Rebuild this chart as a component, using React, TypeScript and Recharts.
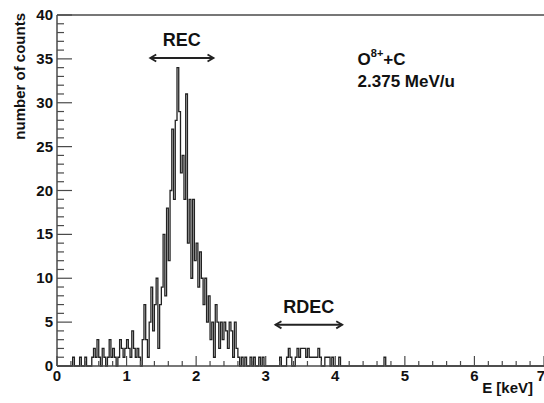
import React from 'react';
import { LineChart, Line, XAxis, YAxis, ReferenceLine, ReferenceDot } from 'recharts';

// histogram of counts, bins of 0.025 keV starting at 0 keV
const binWidth = 0.025;
const counts = [
  // 0.0 - 0.475
  0, 0, 0, 0, 0, 0, 0, 0, 0, 1, 0, 0, 0, 1, 0, 0, 1, 0, 0, 0,
  // 0.5 - 0.975
  1, 2, 1, 3, 1, 0, 2, 1, 0, 1, 3, 1, 2, 1, 0, 1, 3, 2, 1, 2,
  // 1.0 - 1.475
  3, 2, 1, 4, 2, 1, 2, 1, 0, 3, 7, 3, 1, 5, 9, 4, 7, 10, 2, 7,
  // 1.5 - 1.975
  9, 15, 8, 18, 12, 20, 27, 19, 28, 34, 29, 22, 24, 19, 31, 14, 19, 10, 19, 12,
  // 2.0 - 2.475
  14, 9, 13, 10, 7, 10, 5, 8, 3, 5, 1, 7, 5, 2, 5, 3, 5, 4, 2, 5,
  // 2.5 - 2.975
  4, 1, 5, 2, 1, 0, 1, 0, 1, 0, 0, 1, 0, 1, 0, 0, 1, 0, 1, 0,
  // 3.0 - 3.475
  0, 0, 0, 0, 0, 0, 0, 0, 1, 0, 0, 0, 1, 2, 1, 0, 0, 1, 2, 1,
  // 3.5 - 3.975
  2, 2, 2, 1, 2, 1, 1, 1, 1, 1, 2, 1, 0, 0, 1, 1, 1, 0, 1, 0,
  // 4.0 - 4.475
  0, 0, 1, 0, 0, 0, 0, 0, 0, 0, 0, 0, 0, 0, 0, 0, 0, 0, 0, 0,
  // 4.5 - 4.975
  0, 0, 0, 0, 0, 0, 0, 0, 1, 0, 0, 0, 0, 0, 0, 0, 0, 0, 0, 0,
];

const xMajorTicks = [0, 1, 2, 3, 4, 5, 6, 7];
const yMajorTicks = [0, 5, 10, 15, 20, 25, 30, 35, 40];

const xTicks = Array.from({ length: 36 }, (_, i) => Math.round(i * 2) / 10);
const yTicks = Array.from({ length: 41 }, (_, i) => i);

const histData = [
  ...counts.map((c, i) => ({ e: i * binWidth, c })),
  { e: counts.length * binWidth, c: 0 },
  { e: 7, c: 0 },
];

const FONT = "'Liberation Sans', Arial, Helvetica, sans-serif";
const AXIS = '#4a4a4a';

const XTick = (props: any) => {
  const { x, y, payload } = props;
  const major = xMajorTicks.includes(payload.value);
  const last = payload.value === xMajorTicks[xMajorTicks.length - 1];
  return (
    <g>
      <line x1={x} y1={y} x2={x} y2={y - (major ? 10 : 5)} stroke={AXIS} strokeWidth={1.2} />
      {major && (
        <text
          x={last ? x + 1 : x}
          y={y + 15}
          textAnchor={last ? 'end' : 'middle'}
          fontFamily={FONT}
          fontWeight="bold"
          fontSize={15}
          fill="#111"
        >
          {payload.value}
        </text>
      )}
    </g>
  );
};

const YTick = (props: any) => {
  const { x, y, payload } = props;
  const major = yMajorTicks.includes(payload.value);
  return (
    <g>
      <line x1={x} y1={y} x2={x + (major ? 15 : 7)} y2={y} stroke={AXIS} strokeWidth={1.2} />
      {major && (
        <text x={x - 4} y={y + 5} textAnchor="end" fontFamily={FONT} fontWeight="bold" fontSize={15} fill="#111">
          {payload.value}
        </text>
      )}
    </g>
  );
};

const DoubleArrow = (props: any) => {
  const { x1, y1, x2, y2 } = props;
  const h = 6;
  return (
    <g stroke="#222" strokeWidth={1.8} fill="none">
      <line x1={x1} y1={y1} x2={x2} y2={y2} />
      <polyline points={`${x1 + h},${y1 - h * 0.6} ${x1},${y1} ${x1 + h},${y1 + h * 0.6}`} />
      <polyline points={`${x2 - h},${y2 - h * 0.6} ${x2},${y2} ${x2 - h},${y2 + h * 0.6}`} />
    </g>
  );
};

const arrowLabel = (text: string) => (p: any) => {
  const vb = p.viewBox;
  return (
    <text x={vb.x + vb.width / 2} y={vb.y - 12} textAnchor="middle" fontFamily={FONT} fontWeight="bold" fontSize={18} fill="#111">
      {text}
    </text>
  );
};

export default function App() {
  return (
    <div style={{ position: 'absolute', left: 0, top: 0, width: 544, height: 403, background: '#fff' }}>
      <LineChart width={544} height={403} data={histData} margin={{ top: 15, right: 0, bottom: 0, left: 0 }}>
        <XAxis
          dataKey="e"
          type="number"
          domain={[0, 7]}
          ticks={xTicks}
          interval={0}
          height={37}
          tickSize={0}
          tickMargin={0}
          tickLine={false}
          tick={<XTick />}
          axisLine={{ stroke: AXIS, strokeWidth: 1.5 }}
          allowDataOverflow
          label={{
            content: () => (
              <text x={533} y={393} textAnchor="end" fontFamily={FONT} fontWeight="bold" fontSize={15} fill="#111">
                E [keV]
              </text>
            ),
          }}
        />
        <YAxis
          type="number"
          domain={[0, 40]}
          ticks={yTicks}
          interval={0}
          width={57}
          tickSize={0}
          tickMargin={0}
          tickLine={false}
          tick={<YTick />}
          axisLine={{ stroke: AXIS, strokeWidth: 1.5 }}
          label={{
            content: () => (
              <text transform="translate(25,13) rotate(-90)" textAnchor="end" fontFamily={FONT} fontWeight="bold" fontSize={15} fill="#111">
                number of counts
              </text>
            ),
          }}
        />
        <ReferenceLine y={40} stroke={AXIS} strokeWidth={1.5} />
        <Line
          type="stepAfter"
          dataKey="c"
          stroke="#222"
          strokeWidth={1.3}
          dot={false}
          isAnimationActive={false}
        />
        <ReferenceLine
          segment={[{ x: 1.34, y: 35.1 }, { x: 2.25, y: 35.1 }]}
          shape={<DoubleArrow />}
          label={{ content: arrowLabel('REC') }}
          ifOverflow="visible"
        />
        <ReferenceLine
          segment={[{ x: 3.14, y: 4.7 }, { x: 4.1, y: 4.7 }]}
          shape={<DoubleArrow />}
          label={{ content: arrowLabel('RDEC') }}
          ifOverflow="visible"
        />
        <ReferenceDot
          x={4.32}
          y={34.3}
          ifOverflow="visible"
          shape={(p: any) => (
            <text x={p.cx} y={p.cy} fontFamily={FONT} fontWeight="bold" fontSize={17} fill="#111">
              O<tspan fontSize={11} dy={-8}>8+</tspan>
              <tspan dy={8}>+C</tspan>
            </text>
          )}
        />
        <ReferenceDot
          x={4.32}
          y={31.8}
          ifOverflow="visible"
          shape={(p: any) => (
            <text x={p.cx} y={p.cy} fontFamily={FONT} fontWeight="bold" fontSize={17} fill="#111">
              2.375 MeV/u
            </text>
          )}
        />
      </LineChart>
    </div>
  );
}
